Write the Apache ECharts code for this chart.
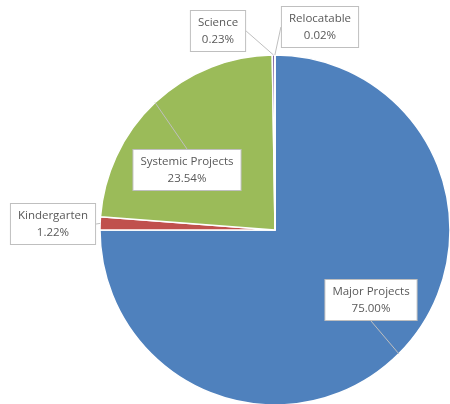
<!DOCTYPE html>
<html><head><meta charset="utf-8">
<script src="https://cdn.jsdelivr.net/npm/echarts@6/dist/echarts.min.js"></script>
<style>html,body{margin:0;padding:0;background:#fff}#c{width:450px;height:404px}</style>
</head><body><div id="c"></div>
<script>
const categories = ['Major Projects', 'Kindergarten', 'Systemic Projects', 'Science', 'Relocatable'];
const values = [75.00, 1.22, 23.54, 0.23, 0.02];
const colors = ['#4f81bd', '#c0504d', '#9bbb59', '#8064a2', '#4bacc6'];
// label box centres (layout only)
const labelPos = [[371, 300], [53, 224], [187, 170], [218, 31], [320, 27]];

const base = {
  type: 'pie',
  center: [275, 230],
  radius: 175,
  startAngle: 90,
  clockwise: true,
  avoidLabelOverlap: false,
  silent: true
};
const chart = echarts.init(document.getElementById('c'));
chart.setOption({
  animation: false,
  series: [
    Object.assign({}, base, {
      z: 2,
      itemStyle: { borderColor: '#ffffff', borderWidth: 1.5 },
      data: categories.map((n, i) => ({ name: n, value: values[i], itemStyle: { color: colors[i] } })),
      label: { show: false },
      labelLine: { show: false }
    }),
    Object.assign({}, base, {
      z: 5,
      itemStyle: { color: 'rgba(0,0,0,0)', borderWidth: 0 },
      data: categories.map((n, i) => ({ name: n, value: values[i] })),
      label: {
        show: true,
        position: 'outside',
        formatter: p => p.name + '\n' + p.value.toFixed(2) + '%',
        fontFamily: 'Open Sans',
        fontSize: 11.5,
        lineHeight: 17,
        color: '#595959',
        backgroundColor: '#ffffff',
        borderColor: '#bfbfbf',
        borderWidth: 1,
        padding: [3, 7],
        align: 'center'
      },
      labelLine: { show: true, length: 0, length2: 0, lineStyle: { color: '#bfbfbf', width: 1 } },
      labelLayout: function (params) {
        const p = labelPos[params.dataIndex];
        return { x: p[0], y: p[1], align: 'center', verticalAlign: 'middle', hideOverlap: false };
      }
    })
  ]
});
</script></body></html>
